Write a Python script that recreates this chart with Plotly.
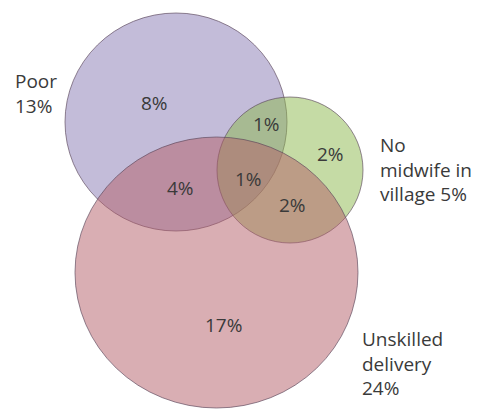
import plotly.graph_objects as go

# Three overlapping groups and their overall shares
set_names = ["Poor", "No<br>midwife in<br>village", "Unskilled<br>delivery"]
set_totals = [13, 5, 24]
set_joiners = ["<br>", " ", "<br>"]

# Share of each Venn region (exclusive areas)
region_names = ["Poor only", "Poor & no midwife", "No midwife only", "Poor & unskilled",
                "All three", "No midwife & unskilled", "Unskilled only"]
region_values = [8, 1, 2, 4, 1, 2, 17]

# Layout: circle bounding boxes in page pixels (x0, x1, y0, y1)
circle_boxes = [(65, 287, 13, 231), (217, 363, 97, 243), (75, 358, 137, 408)]
circle_fills = ["rgba(135,121,179,0.5)", "rgba(139,183,75,0.5)", "rgba(179,93,103,0.5)"]
circle_line = "rgba(90,70,90,0.65)"

region_pos = [(154, 103), (266, 124), (330, 154), (180, 188),
              (248, 179), (292, 205), (223, 325)]
set_label_pos = [(13, 93), (378, 169), (360, 363)]

W, H = 482, 409
font = dict(family="Open Sans, Lato, sans-serif", size=19, color="#3a3a3a")

fig = go.Figure()

for (x0, x1, y0, y1), fill in zip(circle_boxes, circle_fills):
    fig.add_shape(type="circle", xref="x", yref="y", x0=x0, x1=x1, y0=y0, y1=y1,
                  fillcolor=fill, line=dict(color=circle_line, width=1), layer="below")

for (x, y), v in zip(region_pos, region_values):
    fig.add_annotation(x=x, y=y, text=f"{v}%", showarrow=False,
                       xanchor="center", yanchor="middle", font=font)

for (x, y), name, total, sep in zip(set_label_pos, set_names, set_totals, set_joiners):
    fig.add_annotation(x=x, y=y, text=f"{name}{sep}{total}%", showarrow=False,
                       xanchor="left", yanchor="middle", align="left", font=font)

fig.update_xaxes(range=[0, W], visible=False, fixedrange=True)
fig.update_yaxes(range=[H, 0], visible=False, fixedrange=True)
fig.update_layout(width=W, height=H, margin=dict(l=0, r=0, t=0, b=0),
                  paper_bgcolor="white", plot_bgcolor="white", showlegend=False)

fig.write_html("out.html")
